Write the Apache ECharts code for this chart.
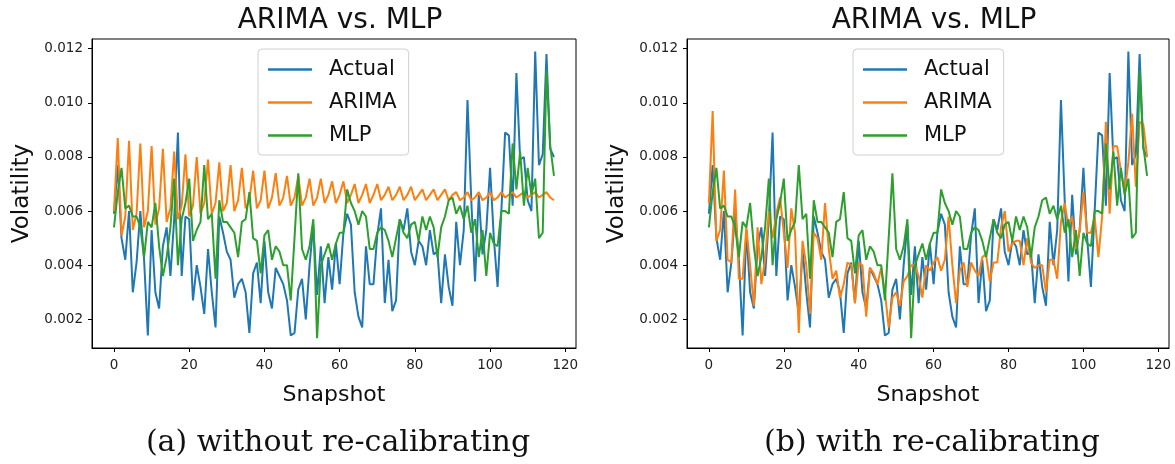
<!DOCTYPE html>
<html>
<head>
<meta charset="utf-8">
<script src="https://cdn.jsdelivr.net/npm/echarts@6/dist/echarts.min.js"></script>
<style>
  html, body { margin: 0; padding: 0; background: #fff; }
  #chart { width: 1175px; height: 464px; }
</style>
</head>
<body>
<div id="chart"></div>
<script>
// tick labels
var xTicks = [0, 20, 40, 60, 80, 100, 120];
var yTicks = [0.002, 0.004, 0.006, 0.008, 0.010, 0.012];

// actual volatility, one value per snapshot (same in both panels)
var actual = [
  0.0059, 0.0077, 0.0050, 0.0042, 0.0060, 0.0030, 0.0041, 0.0060, 0.0042, 0.0014,
  0.0053, 0.0030, 0.0024, 0.0047, 0.0054, 0.0036, 0.0057, 0.0089, 0.0036, 0.0058,
  0.0057, 0.0027, 0.0040, 0.0032, 0.0022, 0.0046, 0.0030, 0.0017, 0.0058, 0.0052,
  0.0045, 0.0042, 0.0028, 0.0033, 0.0035, 0.0030, 0.0015, 0.0037, 0.0041, 0.0026,
  0.0049, 0.0030, 0.0024, 0.0039, 0.0036, 0.0033, 0.0027, 0.0014, 0.0015, 0.0031,
  0.0035, 0.0020, 0.0040, 0.0055, 0.0029, 0.0047, 0.0026, 0.0043, 0.0031, 0.0048,
  0.0033, 0.0052, 0.0059, 0.0055, 0.0030, 0.0021, 0.0017, 0.0047, 0.0033, 0.0033,
  0.0051, 0.0061, 0.0026, 0.0042, 0.0023, 0.0027, 0.0057, 0.0053, 0.0061, 0.0045,
  0.0040, 0.0049, 0.0047, 0.0040, 0.0053, 0.0044, 0.0045, 0.0026, 0.0044, 0.0032,
  0.0025, 0.0056, 0.0040, 0.0053, 0.0101, 0.0064, 0.0034, 0.0066, 0.0044, 0.0053,
  0.0076, 0.0050, 0.0032, 0.0060, 0.0089, 0.0088, 0.0062, 0.0111, 0.0079, 0.0080,
  0.0064, 0.0060, 0.0119, 0.0077, 0.0081, 0.0118, 0.0083, 0.0080
];

// (a) ARIMA without re-calibrating
var arimaA = [
  0.0060, 0.0087, 0.0051, 0.0058, 0.0086, 0.0053, 0.0059, 0.0085, 0.0054, 0.0060,
  0.0084, 0.0055, 0.0061, 0.0083, 0.0056, 0.0061, 0.0082, 0.0057, 0.0062, 0.0081,
  0.0058, 0.0062, 0.0080, 0.0059, 0.0063, 0.0079, 0.0059, 0.0063, 0.0078, 0.0060,
  0.0063, 0.0077, 0.0060, 0.0064, 0.0076, 0.0061, 0.0064, 0.0075, 0.0061, 0.0064,
  0.0075, 0.0061, 0.0065, 0.0074, 0.0062, 0.0065, 0.0073, 0.0062, 0.0065, 0.0073,
  0.0062, 0.0065, 0.0072, 0.0062, 0.0065, 0.0072, 0.0063, 0.0066, 0.0071, 0.0063,
  0.0066, 0.0071, 0.0063, 0.0066, 0.0070, 0.0063, 0.0066, 0.0070, 0.0063, 0.0066,
  0.0070, 0.0064, 0.0066, 0.0069, 0.0064, 0.0066, 0.0069, 0.0064, 0.0066, 0.0069,
  0.0064, 0.0066, 0.0068, 0.0064, 0.0066, 0.0068, 0.0064, 0.0066, 0.0068, 0.0064,
  0.0066, 0.0067, 0.0064, 0.0065, 0.0067, 0.0064, 0.0065, 0.0067, 0.0064, 0.0065,
  0.0067, 0.0064, 0.0065, 0.0067, 0.0065, 0.0066, 0.0067, 0.0065, 0.0066, 0.0067,
  0.0065, 0.0066, 0.0067, 0.0065, 0.0066, 0.0067, 0.0065, 0.0064
];

// (b) ARIMA with re-calibrating
var arimaB = [
  0.0063, 0.0097, 0.0049, 0.0053, 0.0075, 0.0042, 0.0041, 0.0068, 0.0035, 0.0035,
  0.0054, 0.0040, 0.0025, 0.0054, 0.0033, 0.0042, 0.0060, 0.0050, 0.0059, 0.0065,
  0.0052, 0.0039, 0.0061, 0.0052, 0.0015, 0.0049, 0.0040, 0.0022, 0.0052, 0.0050,
  0.0042, 0.0063, 0.0046, 0.0035, 0.0038, 0.0028, 0.0033, 0.0041, 0.0040, 0.0026,
  0.0041, 0.0040, 0.0021, 0.0039, 0.0037, 0.0033, 0.0039, 0.0030, 0.0017, 0.0028,
  0.0030, 0.0025, 0.0034, 0.0036, 0.0040, 0.0040, 0.0036, 0.0028, 0.0040, 0.0038,
  0.0041, 0.0043, 0.0038, 0.0042, 0.0058, 0.0040, 0.0026, 0.0038, 0.0041, 0.0032,
  0.0041, 0.0038, 0.0036, 0.0043, 0.0044, 0.0034, 0.0041, 0.0041, 0.0054, 0.0060,
  0.0045, 0.0048, 0.0049, 0.0049, 0.0040, 0.0050, 0.0041, 0.0039, 0.0040, 0.0040,
  0.0030, 0.0042, 0.0042, 0.0035, 0.0056, 0.0063, 0.0054, 0.0058, 0.0046, 0.0053,
  0.0067, 0.0052, 0.0052, 0.0058, 0.0043, 0.0058, 0.0093, 0.0059, 0.0084, 0.0084,
  0.0075, 0.0067, 0.0078, 0.0096, 0.0069, 0.0093, 0.0092, 0.0080
];

// MLP forecast (looks identical in both panels)
var mlp = [
  0.0054, 0.0067, 0.0076, 0.0061, 0.0062, 0.0058, 0.0058, 0.0054, 0.0043, 0.0056,
  0.0054, 0.0063, 0.0047, 0.0036, 0.0043, 0.0054, 0.0072, 0.0040, 0.0057, 0.0063,
  0.0072, 0.0049, 0.0053, 0.0056, 0.0077, 0.0057, 0.0059, 0.0035, 0.0064, 0.0056,
  0.0056, 0.0054, 0.0052, 0.0043, 0.0056, 0.0057, 0.0067, 0.0050, 0.0049, 0.0037,
  0.0051, 0.0053, 0.0042, 0.0047, 0.0045, 0.0040, 0.0040, 0.0027, 0.0050, 0.0074,
  0.0046, 0.0042, 0.0047, 0.0057, 0.0013, 0.0040, 0.0044, 0.0048, 0.0042, 0.0048,
  0.0052, 0.0052, 0.0068, 0.0063, 0.0060, 0.0055, 0.0060, 0.0058, 0.0046, 0.0046,
  0.0052, 0.0054, 0.0053, 0.0049, 0.0043, 0.0050, 0.0057, 0.0052, 0.0050, 0.0055,
  0.0056, 0.0049, 0.0058, 0.0053, 0.0058, 0.0054, 0.0043, 0.0054, 0.0058, 0.0064,
  0.0065, 0.0059, 0.0062, 0.0057, 0.0062, 0.0052, 0.0057, 0.0043, 0.0053, 0.0036,
  0.0052, 0.0048, 0.0047, 0.0060, 0.0060, 0.0059, 0.0085, 0.0068, 0.0082, 0.0062,
  0.0076, 0.0066, 0.0072, 0.0050, 0.0052, 0.0112, 0.0084, 0.0073
];

var panelTitle = 'ARIMA vs. MLP';
var captions = ['(a) without re-calibrating', '(b) with re-calibrating'];
var colors = ['#1f77b4', '#ff7f0e', '#2ca02c'];
var sans = 'DejaVu Sans';

function pairs(arr) {
  return arr.map(function(v, i) { return [i, v]; });
}

var grids = [
  {left: 92, top: 39, width: 484, height: 309},
  {left: 687, top: 39, width: 482, height: 309}
];

function xAxisFor(idx) {
  return {
    type: 'value', gridIndex: idx, min: -5.85, max: 122.85,
    name: 'Snapshot', nameLocation: 'middle', nameGap: 36,
    nameTextStyle: {fontFamily: sans, fontSize: 22, color: '#111'},
    axisLine: {show: true, onZero: false, lineStyle: {color: '#000', width: 1}},
    axisTick: {show: true, customValues: xTicks, length: 4, lineStyle: {color: '#000'}},
    axisLabel: {customValues: xTicks, fontFamily: sans, fontSize: 13.5, color: '#222', margin: 10},
    splitLine: {show: false}
  };
}

function yAxisFor(idx) {
  return {
    type: 'value', gridIndex: idx, min: 0.00094, max: 0.01236,
    name: 'Volatility', nameLocation: 'middle', nameGap: 58, nameRotate: 90,
    nameTextStyle: {fontFamily: sans, fontSize: 23, color: '#111'},
    axisLine: {show: true, onZero: false, lineStyle: {color: '#000', width: 1}},
    axisTick: {show: true, customValues: yTicks, length: 4, lineStyle: {color: '#000'}},
    axisLabel: {
      customValues: yTicks, fontFamily: sans, fontSize: 13.5, color: '#222', margin: 9,
      formatter: function(v) { return v.toFixed(3); }
    },
    splitLine: {show: false}
  };
}

function legendFor(left) {
  return {
    left: left, top: 49, orient: 'vertical',
    data: ['Actual', 'ARIMA', 'MLP'],
    icon: 'rect', itemWidth: 44, itemHeight: 2.5, itemGap: 12,
    padding: [10, 12, 9, 10],
    backgroundColor: 'rgba(255,255,255,0.85)',
    borderColor: '#d0d0d0', borderWidth: 1, borderRadius: 4,
    textStyle: {fontFamily: sans, fontSize: 21, color: '#111', lineHeight: 21, padding: [0, 0, 0, 12]},
    selectedMode: false
  };
}

function line(name, data, color, idx) {
  return {
    name: name, type: 'line', xAxisIndex: idx, yAxisIndex: idx,
    data: pairs(data), showSymbol: false, symbol: 'none',
    lineStyle: {color: color, width: 2}, itemStyle: {color: color},
    animation: false
  };
}

var chart = echarts.init(document.getElementById('chart'));
chart.setOption({
  backgroundColor: '#fff',
  animation: false,
  title: [
    {text: panelTitle, left: 335, top: 2, textAlign: 'center',
     textStyle: {fontFamily: sans, fontSize: 28, fontWeight: 'normal', color: '#111'}},
    {text: panelTitle, left: 929, top: 2, textAlign: 'center',
     textStyle: {fontFamily: sans, fontSize: 28, fontWeight: 'normal', color: '#111'}},
    {text: captions[0], left: 333, top: 423, textAlign: 'center',
     textStyle: {fontFamily: 'DejaVu Serif', fontSize: 30, fontWeight: 'normal', color: '#111'}},
    {text: captions[1], left: 927, top: 423, textAlign: 'center',
     textStyle: {fontFamily: 'DejaVu Serif', fontSize: 30, fontWeight: 'normal', color: '#111'}}
  ],
  grid: grids.map(function(g) {
    return Object.assign({show: true, borderColor: '#000', borderWidth: 1, backgroundColor: '#fff'}, g);
  }),
  legend: [legendFor(258), legendFor(853)],
  xAxis: [xAxisFor(0), xAxisFor(1)],
  yAxis: [yAxisFor(0), yAxisFor(1)],
  series: [
    line('Actual', actual, colors[0], 0),
    line('ARIMA', arimaA, colors[1], 0),
    line('MLP', mlp, colors[2], 0),
    line('Actual', actual, colors[0], 1),
    line('ARIMA', arimaB, colors[1], 1),
    line('MLP', mlp, colors[2], 1)
  ]
});
</script>
</body>
</html>
